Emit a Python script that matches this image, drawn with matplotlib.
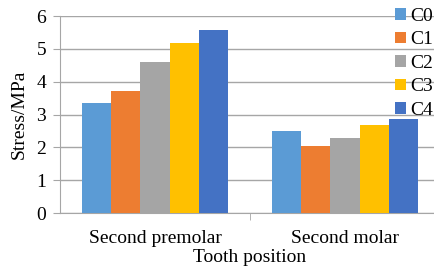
import numpy as np
import matplotlib.pyplot as plt

plt.rcParams['font.family'] = ['Liberation Serif', 'DejaVu Serif']

positions = ['Second premolar', 'Second molar']
series = ['C0', 'C1', 'C2', 'C3', 'C4']
C0 = [3.35, 2.50]
C1 = [3.72, 2.05]
C2 = [4.60, 2.28]
C3 = [5.18, 2.68]
C4 = [5.56, 2.87]
values = [C0, C1, C2, C3, C4]
colors = ['#5B9BD5', '#ED7D31', '#A5A5A5', '#FFC000', '#4472C4']

fig = plt.figure(figsize=(4.35, 2.7), dpi=100)
ax = fig.add_axes([60/435, 1 - 213/270, 380/435, 197/270])

x = np.arange(len(positions))
w = 0.153
for i, (name, vals) in enumerate(zip(series, values)):
    ax.bar(x + (i - 2) * w, vals, w, color=colors[i], label=name, zorder=3)

ax.set_xlim(-0.5, 1.5)
ax.set_ylim(0, 6)
ax.set_yticks(range(7))
ax.set_xticks(x)
ax.set_xticklabels(positions)
ax.set_xticks([0.5], minor=True)
ax.tick_params(axis='x', which='major', length=0, labelsize=14, pad=12)
ax.tick_params(axis='x', which='minor', length=5, color='#a6a6a6')
ax.tick_params(axis='y', length=5, color='#a6a6a6', labelsize=14, pad=5)
ax.grid(axis='y', color='#a6a6a6', linewidth=1, zorder=0)
for s in ['top', 'right']:
    ax.spines[s].set_visible(False)
for s in ['left', 'bottom']:
    ax.spines[s].set_color('#a6a6a6')
ax.set_ylabel('Stress/MPa', fontsize=14, labelpad=6)
ax.set_xlabel('Tooth position', fontsize=14, labelpad=2)

fig.legend(loc='upper left', bbox_to_anchor=(395/435, 1 - 8/270), frameon=False,
           fontsize=14, handlelength=0.55, handleheight=0.55, handletextpad=0.25,
           labelspacing=0.33, borderaxespad=0, borderpad=0)

fig.savefig('out.png', dpi=100)
